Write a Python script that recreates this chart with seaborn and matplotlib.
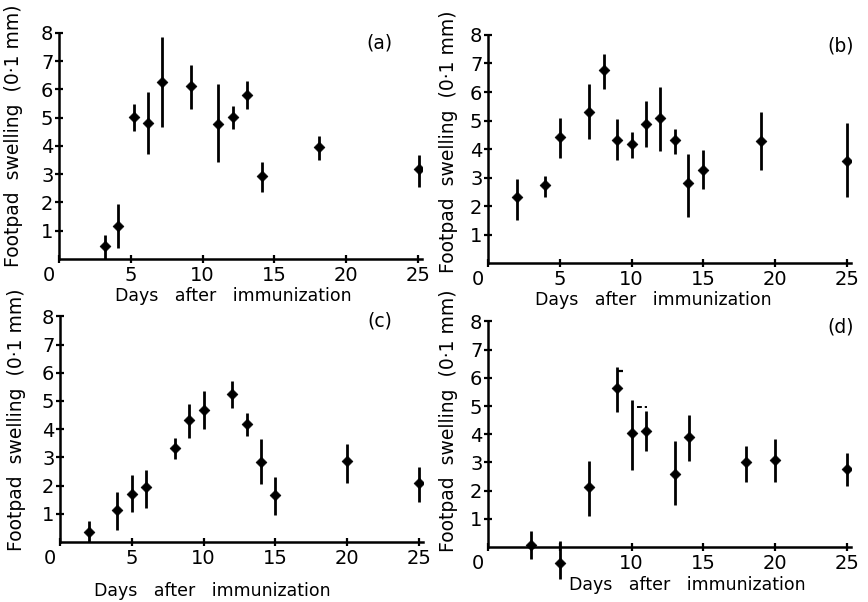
import matplotlib
matplotlib.use("Agg")
import matplotlib.pyplot as plt
import seaborn as sns
import pandas as pd
from matplotlib.transforms import ScaledTranslation

# ---------------- data ----------------
days_a = [3.2, 4.1, 5.2, 6.2, 7.2, 9.2, 11.1, 12.1, 13.1, 14.1, 18.1, 25.1]
mean_a = [0.47, 1.16, 5.03, 4.81, 6.25, 6.14, 4.78, 5.03, 5.82, 2.93, 3.95, 3.2]
lo_a = [0.0, 0.39, 4.54, 3.72, 4.66, 5.32, 3.42, 4.6, 5.31, 2.37, 3.49, 2.55]
hi_a = [0.86, 1.96, 5.5, 5.91, 7.86, 6.88, 6.2, 5.4, 6.31, 3.42, 4.34, 3.67]

days_b = [2, 4, 5, 7, 8.1, 9, 10, 11, 12, 13, 13.9, 15, 19, 25]
mean_b = [2.31, 2.74, 4.41, 5.29, 6.76, 4.33, 4.19, 4.89, 5.1, 4.3, 2.8, 3.27, 4.27, 3.59]
lo_b = [1.5, 2.33, 3.68, 4.35, 6.12, 3.6, 3.68, 4.06, 3.94, 3.84, 1.62, 2.59, 3.25, 2.33]
hi_b = [2.95, 3.06, 5.09, 6.27, 7.33, 5.06, 4.6, 5.68, 6.18, 4.7, 3.84, 3.98, 5.29, 4.92]

days_c = [2, 4, 5, 6, 8, 9, 10, 12, 13, 14, 15, 20, 25]
mean_c = [0.36, 1.15, 1.71, 1.95, 3.32, 4.32, 4.69, 5.24, 4.17, 2.84, 1.65, 2.87, 2.1]
lo_c = [0.0, 0.44, 1.05, 1.21, 2.93, 3.7, 4.02, 4.74, 3.76, 2.04, 0.95, 2.1, 1.41]
hi_c = [0.73, 1.78, 2.37, 2.57, 3.67, 4.88, 5.36, 5.71, 4.56, 3.64, 2.3, 3.48, 2.67]

days_d = [3, 5, 7, 9, 10, 11, 13, 14, 18, 20, 25]
mean_d = [0.07, -0.58, 2.13, 5.64, 4.03, 4.12, 2.6, 3.91, 3.0, 3.08, 2.78]
lo_d = [-0.44, -1.15, 1.1, 4.8, 2.72, 3.39, 1.49, 3.06, 2.29, 2.32, 2.17]
hi_d = [0.57, 0.21, 3.06, 6.37, 5.2, 4.83, 3.77, 4.69, 3.59, 3.83, 3.35]

# small stray marks printed in panel (d)
flag_d_y = [6.26]
flag_d_x = [(8.98, 9.4)]
dash_d_y = [4.95]
dash_d_x = [(10.4, 11.1)]

panel_labels = ["(a)", "(b)", "(c)", "(d)"]
x_ticks = [0, 5, 10, 15, 20, 25]
x_ticklabels = ["0", "5", "10", "15", "20", "25"]
x_ticklabels_d = ["0", "", "10", "15", "20", "25"]
y_ticks = [1, 2, 3, 4, 5, 6, 7, 8]
y_ticklabels = ["1", "2", "3", "4", "5", "6", "7", "8"]
xlabel_text = "Days   after   immunization"
ylabel_text = "Footpad  swelling  (0·1 mm)"

# ---------------- figure ----------------
sns.set_theme(style="ticks")
plt.rcParams["font.family"] = ["DejaVu Sans"]
plt.rcParams["text.color"] = "black"
plt.rcParams["axes.labelcolor"] = "black"
plt.rcParams["xtick.color"] = "black"
plt.rcParams["ytick.color"] = "black"

fig = plt.figure(figsize=(8.68, 6.02), dpi=100)
fig.patch.set_facecolor("white")

panels = [
    dict(days=days_a, mean=mean_a, lo=lo_a, hi=hi_a, rect=[0.0680, 0.5698, 0.4186, 0.3801],
         ylim=(0, 8.1), xl=(0.479, -0.16), yl=(-0.125, 0.54), lab=(22.3, 7.65, "center"),
         xtl=x_ticklabels),
    dict(days=days_b, mean=mean_b, lo=lo_b, hi=hi_b, rect=[0.5622, 0.5631, 0.4186, 0.3835],
         ylim=(0, 8.1), xl=(0.455, -0.16), yl=(-0.11, 0.524), lab=(25.5, 7.6, "right"),
         xtl=x_ticklabels),
    dict(days=days_c, mean=mean_c, lo=lo_c, hi=hi_c, rect=[0.0691, 0.0997, 0.4186, 0.3794],
         ylim=(0, 8.1), xl=(0.42, -0.214), yl=(-0.12, 0.533), lab=(22.3, 7.85, "center"),
         xtl=x_ticklabels),
    dict(days=days_d, mean=mean_d, lo=lo_d, hi=hi_d, rect=[0.5622, 0.0304, 0.4186, 0.4403],
         ylim=(-1.3, 8.1), xl=(0.548, -0.005), yl=(-0.11, 0.615), lab=(25.5, 7.8, "right"),
         xtl=x_ticklabels_d),
]

lw = 2.0
for i, p in enumerate(panels):
    ax = fig.add_axes(p["rect"])
    df = pd.DataFrame({"day": p["days"], "mean": p["mean"], "lo": p["lo"], "hi": p["hi"]})
    ax.vlines(df["day"], df["lo"], df["hi"], colors="black", linewidth=lw, zorder=2)
    sns.scatterplot(data=df, x="day", y="mean", ax=ax, marker="D", s=30,
                    color="black", edgecolor="black", linewidth=0.5, zorder=3, legend=False)
    if i == 3:
        ax.hlines(flag_d_y, [a for a, b in flag_d_x], [b for a, b in flag_d_x],
                  colors="black", linewidth=1.6)
        ax.hlines(dash_d_y, [a for a, b in dash_d_x], [b for a, b in dash_d_x],
                  colors="black", linewidth=1.4, linestyles=(0, (2.5, 1.5)))

    ax.set_xlim(0, 25.3)
    ax.set_ylim(*p["ylim"])
    ax.set_facecolor("white")
    for s in ["top", "right"]:
        ax.spines[s].set_visible(False)
    ax.spines["left"].set_bounds(0, 8)
    ax.spines["bottom"].set_bounds(0, 25.25)
    ax.spines["bottom"].set_position(("data", 0))
    for s in ["left", "bottom"]:
        ax.spines[s].set_linewidth(1.8)
        ax.spines[s].set_color("black")

    ax.set_xticks(x_ticks)
    ax.set_xticklabels(p["xtl"])
    ax.set_yticks(y_ticks)
    ax.set_yticklabels(y_ticklabels)
    ax.tick_params(axis="both", direction="inout", length=6, width=1.6, colors="black",
                   labelsize=14)
    ax.tick_params(axis="x", pad=2)
    ax.tick_params(axis="y", pad=1)
    # shift the "0" on the x-axis a little to the left like in the original
    lbl0 = ax.get_xticklabels()[0]
    lbl0.set_transform(lbl0.get_transform() + ScaledTranslation(-0.10, 0, fig.dpi_scale_trans))

    ax.set_xlabel(xlabel_text, fontsize=12.5, va="center", color="black")
    ax.xaxis.set_label_coords(*p["xl"])
    ax.set_ylabel(ylabel_text, fontsize=13.5, va="center", color="black")
    ax.yaxis.set_label_coords(*p["yl"])

    lx, ly, ha = p["lab"]
    ax.text(lx, ly, panel_labels[i], fontsize=13.5, ha=ha, va="center", color="black")

fig.savefig("out.png", dpi=100, facecolor="white")
